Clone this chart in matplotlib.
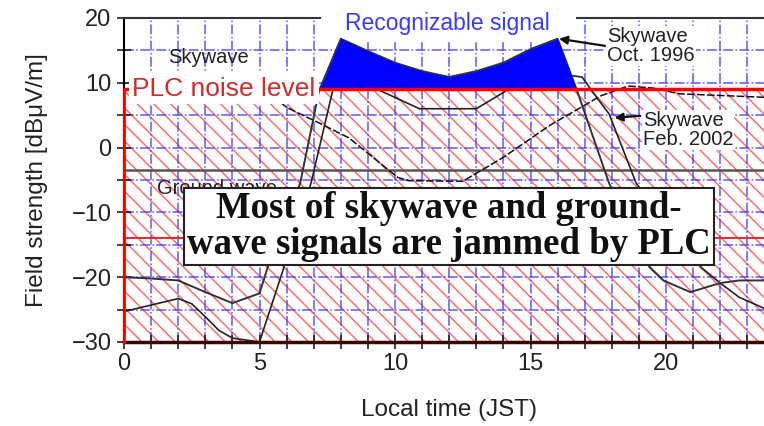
import matplotlib.pyplot as plt
from matplotlib.ticker import MultipleLocator

# skywave Oct. 1996 (hours JST, dBuV/m)
oct96_t = [0, 1, 2, 3, 4, 5, 5.3, 6.5, 7.2, 8, 9, 10, 11, 12, 13, 14, 15, 16,
           16.7, 17.9, 19.4, 19.9, 20.9, 22, 22.7, 24]
oct96_db = [-20, -20.2, -20.5, -22.3, -24, -22.5, -18.5, -5.5, 8.8, 16.8,
            14.9, 13.1, 11.8, 10.9, 11.8, 13.1, 15.2, 16.8, 9, -5.5, -18.5, -20.5, -22.3,
            -20.9, -20.5, -20.5]

# skywave Feb. 2002
feb02_t = [0, 1, 2, 2.5, 3, 3.5, 4, 5, 5.9, 6.9, 7.7, 8.5, 9.45, 10.9, 13, 14, 15, 16.5,
           16.9, 17.45, 17.9, 18.9, 21.3, 22, 22.7, 24]
feb02_db = [-25.3, -24.3, -23.3, -24.1, -26.1, -28.2, -29.4, -30, -18.5, -5.5, 8.8, 11.5,
            8.8, 6, 6, 8.5, 11, 11.1, 10.9, 7.7, 5.2, -5.5, -18.5, -20.9, -23.1, -25.5]

# skywave (dashed)
sky00_t = [5.5, 6, 7.2, 8.3, 10.1, 10.5, 12.5, 14, 15.7, 17.6, 18.6, 19.5, 20.5, 24]
sky00_db = [8.0, 6.2, 3.8, 1.5, -4.6, -5.1, -5.2, -1.5, 3.4, 8.0, 9.5, 9.2, 8.3, 7.7]

ground_t = [0, 24]
ground_db = [-3.4, -3.4]

plc_level = 9
plc_level2 = -14
y_min, y_max = -30, 20

plt.rcParams['font.family'] = ['Liberation Sans', 'DejaVu Sans']
plt.rcParams['hatch.linewidth'] = 1.1

fig = plt.figure(figsize=(7.64, 4.26), dpi=100)
ax = fig.add_axes([124 / 764, 1 - 342 / 426, 27.1 * 24 / 764, 324 / 426])
ax.set_xlim(0, 24)
ax.set_ylim(y_min, y_max)

# PLC noise region (hatched)
ax.fill_between([0, 24], y_min, plc_level, facecolor='white', edgecolor='#ff6e6e',
                hatch='\\\\', linewidth=0, zorder=1)

# grid
ax.xaxis.set_major_locator(MultipleLocator(5))
ax.xaxis.set_minor_locator(MultipleLocator(1))
ax.yaxis.set_major_locator(MultipleLocator(10))
ax.yaxis.set_minor_locator(MultipleLocator(5))
ax.set_axisbelow('line')
ax.grid(which='both', color='#3c3cff', ls='-.', lw=1.1, alpha=0.85)

# white area under the title
ax.axvspan(7.2, 16.7, ymin=(16.4 - y_min) / (y_max - y_min), ymax=1.05, color='white',
           zorder=1.6, clip_on=False)

# curves
ax.plot(ground_t, ground_db, color='#555555', lw=1.8, zorder=2)
ax.axhline(plc_level2, color='#e03030', lw=1.5, zorder=2)
ax.plot(sky00_t, sky00_db, color='#111111', lw=1.1, ls=(0, (5, 1.5)), zorder=2.1)
ax.plot(feb02_t, feb02_db, color='#222222', lw=1.2, zorder=2.2)
ax.plot(oct96_t, oct96_db, color='#333333', lw=1.4, zorder=2.3)
ax.fill_between(oct96_t, oct96_db, plc_level, where=[v >= plc_level for v in oct96_db],
                interpolate=True, color='#0000ff', lw=0, zorder=2.4)
ax.axhline(plc_level, color='#ff0000', lw=2.5, zorder=2.6)
ax.plot([0, 0], [y_min, plc_level], color='#ff0000', lw=2, zorder=3, clip_on=False)

# spines
ax.spines['right'].set_visible(False)
ax.spines['top'].set_visible(False)
ax.plot([0, 7.25], [y_max, y_max], color='#333333', lw=1.5, clip_on=False, zorder=3)
ax.plot([16.7, 24], [y_max, y_max], color='#333333', lw=1.5, clip_on=False, zorder=3)
ax.spines['left'].set_linewidth(1.5)
ax.spines['bottom'].set_linewidth(2.5)
ax.spines['bottom'].set_color('#400000')

ax.tick_params(which='both', direction='inout', length=10, width=1.2, colors='#222222',
               labelsize=17, pad=3)
ax.tick_params(axis='y', pad=4)

ax.set_xlabel('Local time (JST)', fontsize=17.5, color='#222222', labelpad=17)
ax.set_ylabel('Field strength [dB\u03bcV/m]', fontsize=17.5, color='#222222', labelpad=17)

# labels
ax.text(11.92, 19.2, 'Recognizable signal', color='#3a3aff', fontsize=16.5,
        ha='center', va='center', zorder=4)
ax.text(3.69, 9.1, 'PLC noise level', color='#d42a2a', fontsize=19, ha='center',
        va='center', zorder=4,
        bbox=dict(boxstyle='square,pad=0.12', fc='white', ec='none'))
ax.text(1.62, 15.4, 'Skywave', color='#222222', fontsize=14.5, ha='left',
        va='top', zorder=3.5)
ax.text(1.22, -4.8, 'Ground wave', color='#222222', fontsize=14.5, ha='left', va='top',
        zorder=3.5)
ax.text(17.82, 18.6, 'Skywave\nOct. 1996', color='#222222', fontsize=14.5, ha='left',
        va='top', linespacing=1.0, zorder=4,
        bbox=dict(boxstyle='square,pad=0.05', fc='white', ec='none'))
ax.text(19.15, 5.6, 'Skywave\nFeb. 2002', color='#222222', fontsize=14.5, ha='left',
        va='top', linespacing=1.0, zorder=4,
        bbox=dict(boxstyle='square,pad=0.05', fc='white', ec='none'))
ax.annotate('', xy=(16.05, 16.8), xytext=(17.75, 15.7), zorder=4,
            arrowprops=dict(arrowstyle='-|>', color='#111111', lw=1.6, mutation_scale=12,
                            shrinkA=0, shrinkB=0))
ax.annotate('', xy=(18.1, 4.6), xytext=(19.05, 4.9), zorder=4,
            arrowprops=dict(arrowstyle='-|>', color='#111111', lw=1.6, mutation_scale=12,
                            shrinkA=0, shrinkB=0))

ax.text(12.0, -12.2, 'Most of skywave and ground-\nwave signals are jammed by PLC',
        family=['Liberation Serif', 'DejaVu Serif'], fontweight='bold', fontsize=26.5,
        color='#111111', ha='center', va='center', linespacing=1.05, zorder=5,
        bbox=dict(boxstyle='square,pad=0.08', fc='white', ec='#222222', lw=1.5))

fig.savefig('out.png', dpi=100)
